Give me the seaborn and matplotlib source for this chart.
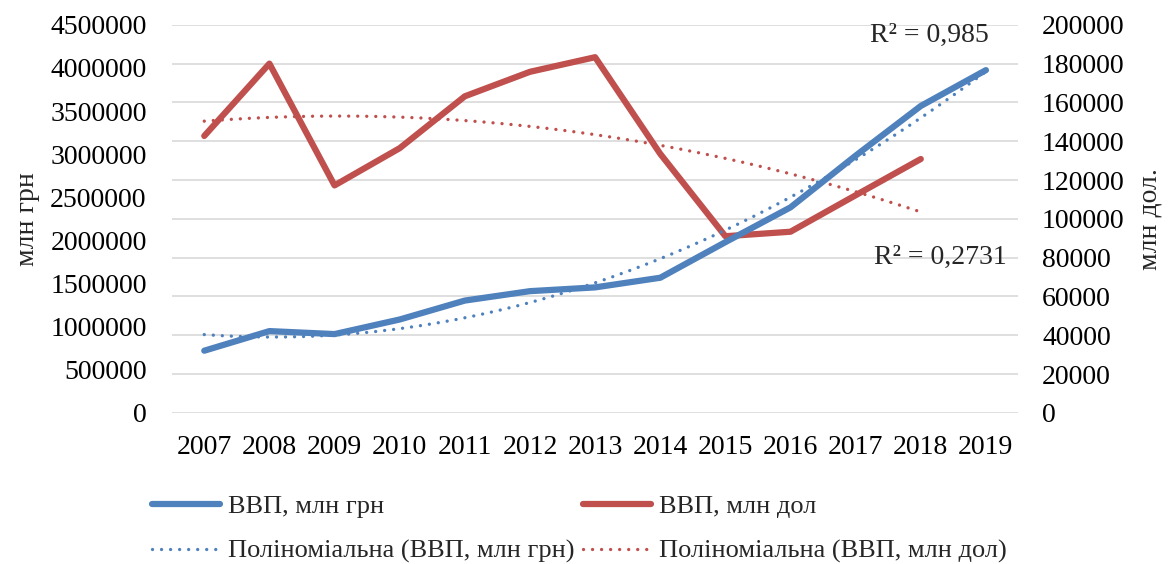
import pandas as pd
import seaborn as sns
import matplotlib.pyplot as plt
import numpy as np
from matplotlib.lines import Line2D

# Data: GDP of Ukraine
years = [2007, 2008, 2009, 2010, 2011, 2012, 2013, 2014, 2015, 2016, 2017, 2018, 2019]
gdp_uah = [720731, 948056, 913345, 1082569, 1302079, 1411238, 1454931, 1566728,
           1979458, 2383182, 2982920, 3558706, 3974564]
gdp_usd = [142719, 179992, 117228, 136419, 163160, 175781, 183310, 133503,
           91031, 93356, 112154, 130832]
r2_uah = "R² = 0,985"
r2_usd = "R² = 0,2731"

blue = "#4F81BD"
red = "#C0504D"
dots = (0, (0.01, 2.7))

sns.set_theme(style="white")
plt.rcParams['font.family'] = ['Liberation Serif', 'DejaVu Serif']
plt.rcParams['font.size'] = 20

df_uah = pd.DataFrame({'year': years, 'value': gdp_uah})
df_usd = pd.DataFrame({'year': years[:len(gdp_usd)], 'value': gdp_usd})


def poly_trend(x, y, deg=2):
    # Excel-style polynomial trendline, fitted on 1..n
    idx = np.arange(1, len(x) + 1)
    coef = np.polyfit(idx, y, deg)
    t = np.linspace(1, len(x), 200)
    return x[0] + t - 1, np.polyval(coef, t)


fig = plt.figure(figsize=(11.68, 5.64), dpi=100)
ax = fig.add_axes([0.147, 0.268, 0.725, 0.688])
ax2 = ax.twinx()

# red series on the secondary axis
tx, ty = poly_trend(df_usd['year'].values, df_usd['value'].values)
ax2.plot(tx, ty, color=red, lw=2.4, linestyle=dots, dash_capstyle='round', zorder=2)
sns.lineplot(data=df_usd, x='year', y='value', ax=ax2, color=red, lw=4.5, zorder=3)

# blue series on the primary axis, drawn on top
ax.set_zorder(ax2.get_zorder() + 1)
ax.patch.set_visible(False)
ax2.patch.set_visible(True)
sns.lineplot(data=df_uah, x='year', y='value', ax=ax, color=blue, lw=4.5, zorder=3)
tx, ty = poly_trend(df_uah['year'].values, df_uah['value'].values)
ax.plot(tx, ty, color=blue, lw=2.4, linestyle=dots, dash_capstyle='round', zorder=4)

ax.set_xlim(2006.5, 2019.5)
ax.set_ylim(0, 4500000)
ax2.set_ylim(0, 200000)
ax.set_yticks(np.arange(0, 4500001, 500000))
ax2.set_yticks(np.arange(0, 200001, 20000))
ax.set_xticks(years)
ax.set_xticklabels([str(y) for y in years])
ax.yaxis.set_major_formatter(plt.FuncFormatter(lambda v, p: f"{int(v)}"))
ax2.yaxis.set_major_formatter(plt.FuncFormatter(lambda v, p: f"{int(v)}"))

ax2.grid(False)
for v in np.arange(0, 200001, 20000):
    ax2.axhline(v, color="#D9D9D9", lw=1.2, zorder=0)

for a in (ax, ax2):
    for s in a.spines.values():
        s.set_visible(False)
    a.tick_params(length=0, labelsize=20, colors='black')
ax.tick_params(axis='x', pad=16)
ax.tick_params(axis='y', pad=18)
ax2.tick_params(axis='y', pad=17)

ax.set_xlabel("")
ax.set_ylabel("млн грн", fontsize=20)
ax2.set_ylabel("млн дол.", fontsize=20)
ax.yaxis.set_label_coords(-0.155, 0.5)
ax2.yaxis.set_label_coords(1.14, 0.5)

ax.text(2018.13, 4380000, r2_uah, ha='center', va='center', fontsize=20)
ax.text(2018.3, 1800000, r2_usd, ha='center', va='center', fontsize=20)

handles = [
    Line2D([], [], color=blue, lw=4.5),
    Line2D([], [], color=blue, lw=2.4, linestyle=dots, dash_capstyle='round'),
    Line2D([], [], color=red, lw=4.5),
    Line2D([], [], color=red, lw=2.4, linestyle=dots, dash_capstyle='round'),
]
labels = ["ВВП, млн грн", "Поліноміальна (ВВП, млн грн)",
          "ВВП, млн дол", "Поліноміальна (ВВП, млн дол)"]
fig.legend(handles, labels, ncol=2, loc='center', bbox_to_anchor=(0.496, 0.062),
           frameon=False, fontsize=19, handlelength=2.6, handletextpad=0.3,
           columnspacing=0.3, labelspacing=0.8)

fig.savefig('out.png', dpi=100)
